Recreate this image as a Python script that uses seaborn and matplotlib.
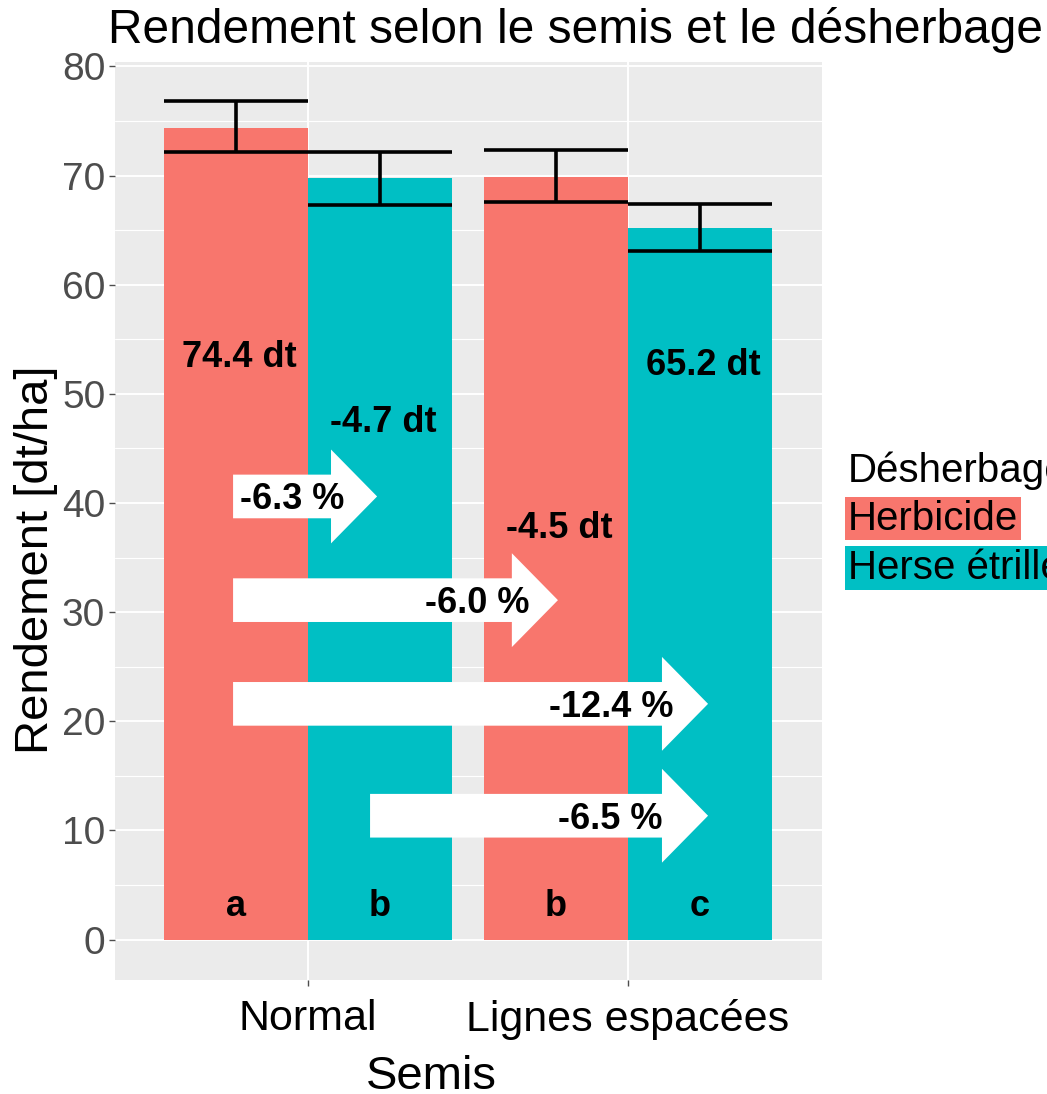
import pandas as pd
import seaborn as sns
import matplotlib.pyplot as plt

# data
semis = ['Normal', 'Normal', 'Lignes espacées', 'Lignes espacées']
desherbage = ['Herbicide', 'Herse étrillé', 'Herbicide', 'Herse étrillé']
rendement = [74.4, 69.8, 69.9, 65.2]
err_low = [72.2, 67.3, 67.6, 63.1]
err_high = [76.8, 72.2, 72.3, 67.4]
letters = ['a', 'b', 'b', 'c']
bar_labels = ['74.4 dt', '-4.7 dt', '-4.5 dt', '65.2 dt']
bar_label_y = [53.3, 47.4, 37.7, 52.6]

# comparison arrows: start x, end x (category units), y, label, label x
arrow_start = [-0.234, -0.234, -0.234, 0.194]
arrow_end = [0.216, 0.781, 1.25, 1.25]
arrow_y = [40.6, 31.1, 21.6, 11.35]
arrow_labels = ['-6.3 %', '-6.0 %', '-12.4 %', '-6.5 %']
arrow_label_x = [-0.05, 0.528, 0.947, 0.944]

colors = ['#F8766D', '#00BFC4']

df = pd.DataFrame({'Semis': semis, 'Désherbage': desherbage, 'Rendement': rendement})

sns.set_theme(style="darkgrid", rc={
    'axes.facecolor': '#EBEBEB', 'grid.color': 'white',
    'axes.edgecolor': 'none', 'text.color': 'black',
    'axes.labelcolor': 'black'})
plt.rcParams['font.family'] = ['Liberation Sans', 'DejaVu Sans']

fig = plt.figure(figsize=(10.47, 10.94), dpi=100)
ax = fig.add_axes([0.1098, 0.1042, 0.6753, 0.8391])

sns.barplot(data=df, x='Semis', y='Rendement', hue='Désherbage',
            palette=colors, width=0.9, gap=0, saturation=1,
            errorbar=None, legend=False, linewidth=0, edgecolor='none', ax=ax)

# bar centres and widths, in the order of the data
bars = sorted(ax.patches, key=lambda p: p.get_x())
for i, p in enumerate(bars):
    cx = p.get_x() + p.get_width() / 2
    w = p.get_width()
    ax.vlines(cx, err_low[i], err_high[i], color='black', lw=2.6, zorder=4)
    ax.hlines([err_low[i], err_high[i]], cx - w / 2, cx + w / 2,
              color='black', lw=2.6, zorder=4)
    ax.text(cx + 0.01, bar_label_y[i], bar_labels[i], ha='center', va='center',
            fontsize=26, fontweight='bold', zorder=6)
    ax.text(cx, 3.0, letters[i], ha='center', va='center',
            fontsize=26, fontweight='bold', zorder=6)

for x0, x1, y, lab, lx in zip(arrow_start, arrow_end, arrow_y, arrow_labels, arrow_label_x):
    ax.arrow(x0, y, x1 - x0, 0, width=4.0, head_width=8.6, head_length=0.144,
             length_includes_head=True, fc='white', ec='none', zorder=5)
    ax.text(lx, y - 0.3, lab, ha='center', va='center', fontsize=26,
            fontweight='bold', zorder=6)

ax.set_xlim(-0.603, 1.606)
ax.set_ylim(-3.7, 80.4)
ax.set_yticks(range(0, 81, 10))
ax.set_yticks(range(5, 80, 10), minor=True)
ax.grid(which='major', color='white', lw=1.4)
ax.grid(which='minor', axis='y', color='white', lw=0.8)
ax.tick_params(axis='y', which='major', labelsize=28, labelcolor='#4D4D4D',
               length=4, width=1, color='#4D4D4D', pad=3, left=True)
ax.tick_params(axis='y', which='minor', length=0)
ax.tick_params(axis='x', labelsize=31, labelcolor='black',
               length=4, width=1, color='#4D4D4D', pad=10, bottom=True)

ax.set_xlabel('Semis', fontsize=34)
ax.set_ylabel('Rendement [dt/ha]', fontsize=34)
ax.xaxis.set_label_coords(0.448, -0.082)
ax.yaxis.set_label_coords(-0.08, 0.4575)

fig.text(0.550, 0.973, 'Rendement selon le semis et le désherbage',
         ha='center', va='center', fontsize=34.5, color='black')

# legend as highlighted text
fig.text(0.810, 0.570, 'Désherbage', ha='left', va='center', fontsize=29)
fig.text(0.810, 0.526, 'Herbicide', ha='left', va='center', fontsize=29,
         bbox=dict(facecolor=colors[0], edgecolor='none', pad=2))
fig.text(0.810, 0.481, 'Herse étrillé', ha='left', va='center', fontsize=29,
         bbox=dict(facecolor=colors[1], edgecolor='none', pad=2))

fig.savefig('out.png', dpi=100)
